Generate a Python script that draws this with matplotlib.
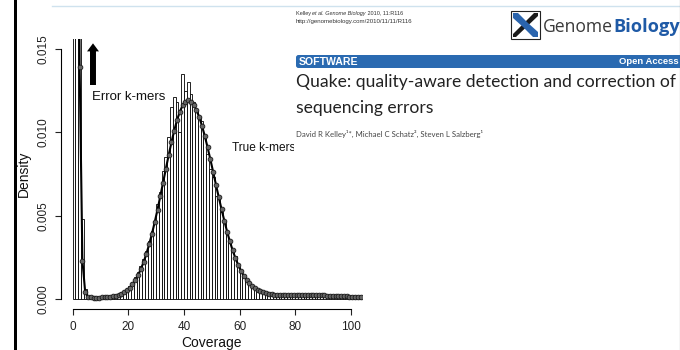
import numpy as np
import matplotlib
matplotlib.use("Agg")
import matplotlib.pyplot as plt
from matplotlib.patches import Rectangle, FancyBboxPatch, Polygon

plt.rcParams['font.family'] = ['Liberation Sans', 'DejaVu Sans']

# k-mer coverage histogram (density per unit coverage bin) and fitted model
coverage = np.arange(104)
hist_density = [
    0.0600, 0.0350, 0.0200, 0.0048, 0.0006, 0.00015, 0.00006, 0.00005, 0.00005, 0.00006,
    0.00008, 0.00010, 0.00012, 0.00015, 0.00019, 0.00025, 0.00031, 0.00040, 0.00050, 0.00066,
    0.00080, 0.00105, 0.00130, 0.00165, 0.00200, 0.00240, 0.00290, 0.00350, 0.00410, 0.00470,
    0.00570, 0.00640, 0.00770, 0.00850, 0.00970, 0.01150, 0.01210, 0.01180, 0.01000, 0.01350,
    0.01250, 0.01300, 0.01230, 0.01180, 0.01130, 0.01090, 0.01070, 0.00970, 0.00870, 0.00780,
    0.00730, 0.00620, 0.00600, 0.00520, 0.00470, 0.00400, 0.00350, 0.00290, 0.00260, 0.00190,
    0.00160, 0.00130, 0.00110, 0.00090, 0.00070, 0.00060, 0.00050, 0.00045, 0.00040, 0.00035,
    0.00032, 0.00030, 0.00028, 0.00027, 0.00026, 0.00027, 0.00025, 0.00026, 0.00025, 0.00026,
    0.00025, 0.00024, 0.00026, 0.00024, 0.00025, 0.00023, 0.00024, 0.00023, 0.00022, 0.00023,
    0.00021, 0.00020, 0.00020, 0.00019, 0.00018, 0.00018, 0.00017, 0.00016, 0.00015, 0.00015,
    0.00014, 0.00013, 0.00013, 0.00012,
]
model_density = [
    0.0900, 0.0450, 0.0139, 0.0023, 0.00040, 0.00014, 0.00010, 0.00009, 0.00009, 0.00009,
    0.00010, 0.00011, 0.00012, 0.00014, 0.00017, 0.00021, 0.00026, 0.00032, 0.00041, 0.00053,
    0.00069, 0.00089, 0.00113, 0.00143, 0.00179, 0.00222, 0.00272, 0.00328, 0.00392, 0.00462,
    0.00537, 0.00617, 0.00699, 0.00782, 0.00863, 0.00940, 0.01011, 0.01073, 0.01123, 0.01161,
    0.01184, 0.01192, 0.01185, 0.01166, 0.01134, 0.01091, 0.01038, 0.00977, 0.00909, 0.00837,
    0.00762, 0.00686, 0.00611, 0.00539, 0.00470, 0.00405, 0.00346, 0.00292, 0.00245, 0.00204,
    0.00168, 0.00140, 0.00115, 0.00095, 0.00079, 0.00066, 0.00055, 0.00047, 0.00041, 0.00036,
    0.00032, 0.00029, 0.00027, 0.00026, 0.00025, 0.00025, 0.00025, 0.00025, 0.00025, 0.00025,
    0.00024, 0.00024, 0.00024, 0.00024, 0.00024, 0.00023, 0.00023, 0.00023, 0.00022, 0.00022,
    0.00022, 0.00021, 0.00020, 0.00019, 0.00019, 0.00018, 0.00017, 0.00016, 0.00016, 0.00015,
    0.00014, 0.00014, 0.00013, 0.00013,
]
x_ticks = [0, 20, 40, 60, 80, 100]
y_ticks = [0.000, 0.005, 0.010, 0.015]
y_tick_labels = ['0.000', '0.005', '0.010', '0.015']

W, H = 680, 350
fig = plt.figure(figsize=(6.8, 3.5), dpi=100)
fig.patch.set_facecolor('white')
r = fig.canvas.get_renderer()

# --- histogram panel (R style) ---
ax = fig.add_axes([61 / W, 1 - 309 / H, 301 / W, 270 / H])
ax.bar(coverage, hist_density, width=1, align='edge', color='white',
       edgecolor='black', linewidth=0.6)
ax.plot(coverage + 0.5, model_density, '-o', color='black', lw=1.5, ms=3.4,
        mfc='#666666', mec='#1a1a1a', mew=0.6)
ax.set_xlim(-4.2, 104)
ax.set_ylim(-0.0006, 0.0156)
for s in ['top', 'right']:
    ax.spines[s].set_visible(False)
for s in ['left', 'bottom']:
    ax.spines[s].set_linewidth(0.8)
ax.spines['left'].set_bounds(0, 0.015)
ax.spines['bottom'].set_bounds(0, 100)
ax.set_xticks(x_ticks)
ax.set_yticks(y_ticks)
ax.set_yticklabels(y_tick_labels, rotation=90, va='center')
ax.tick_params(length=4.5, width=0.8, labelsize=8.5, pad=4, colors='#222222')
ax.set_ylabel('Density', fontsize=10, va='center', color='#111111')
ax.yaxis.set_label_coords((24 - 61) / 301, 0.5)
ax.set_xlabel('Coverage', fontsize=10, va='center', color='#111111')
ax.xaxis.set_label_coords(0.5, (309 - 343) / 270)

ax.annotate('', xy=(7.3, 0.01534), xytext=(7.3, 0.01284),
            arrowprops=dict(arrowstyle='simple,head_length=0.58,head_width=0.86,tail_width=0.43',
                            fc='black', ec='black', lw=0, shrinkA=0, shrinkB=0))
ax.text(6.9, 0.01212, 'Error k-mers', fontsize=9.5, va='center', color='#111111')
ax.text(57.1, 0.00908, 'True k-mers', fontsize=8.6, va='center', color='#111111')

# --- overlaid article header, pixel coordinates ---
ov = fig.add_axes([0, 0, 1, 1], zorder=3)
ov.set_xlim(0, W)
ov.set_ylim(H, 0)
ov.axis('off')

ov.add_patch(Rectangle((294, 0), 390, 158, fc='white', ec='none'))
ov.plot([52, W], [6, 6], color='#cfe2ee', lw=1)
ov.add_patch(Rectangle((14, 0), 3, H, fc='black', ec='none'))
ov.plot([679.5, 679.5], [0, H], color='#555555', lw=0.8)


def fit(x, y, s, width, size, **kw):
    t = ov.text(x, y, s, fontsize=size, **kw)
    w = t.get_window_extent(r).width
    t.set_fontsize(size * width / w)
    return t


def runs(x, y, parts, size, **kw):
    for s, style in parts:
        t = ov.text(x, y, s, fontsize=size, style=style, **kw)
        x += t.get_window_extent(r).width


runs(296, 13, [('Kelley ', 'normal'), ('et al. Genome Biology', 'italic'),
               (' 2010, 11:R116', 'normal')], 4.0, va='center', color='#333333')
fit(296, 21, 'http://genomebiology.com/2010/11/11/R116', 118, 4.0, va='center', color='#333333')

# logo
ov.add_patch(Rectangle((511, 11), 29, 28, fill=False, ec='#222222', lw=0.8))
ov.add_patch(Polygon([(538, 13), (534, 13), (513, 34), (513, 37), (516, 37), (538, 16)],
                     fc='#1a1a1a', ec='none'))
ov.add_patch(Polygon([(513, 13), (518, 13), (528, 23), (538, 32), (538, 37), (533, 37),
                      (523, 27), (513, 18)], fc='#2a64ad', ec='none'))
g = fit(543, 32.5, 'Genome', 70, 13.5, va='baseline', color='#3a3a3a',
        family=['Open Sans', 'DejaVu Sans'])
fit(613, 32.5, 'Biology', 66, g.get_fontsize(), va='baseline', color='#1f5aa6',
    weight='bold', family=['Open Sans', 'DejaVu Sans'])

# blue section bar
ov.add_patch(FancyBboxPatch((296, 55), 400, 13, boxstyle='round,pad=0,rounding_size=2.5',
                            fc='#2a6ab1', ec='none'))
fit(299, 61.8, 'SOFTWARE', 59, 7.5, va='center', color='white', weight='bold')
ov.text(679, 61.8, 'Open Access', fontsize=6.8, va='center', ha='right', color='white',
        weight='bold')

# title and authors
tf = ['Lato', 'DejaVu Sans']
t1 = fit(296, 87.5, 'Quake: quality-aware detection and correction of', 377, 13,
         va='baseline', color='#222222', family=tf)
ov.text(296, 112.5, 'sequencing errors', fontsize=t1.get_fontsize(), va='baseline',
        color='#222222', family=tf)
fit(296, 133.5, 'David R Kelley\u00b9*, Michael C Schatz\u00b2, Steven L Salzberg\u00b9', 186, 5.5,
    va='center', color='#444444', family=tf)

fig.savefig('out.png', dpi=100)
